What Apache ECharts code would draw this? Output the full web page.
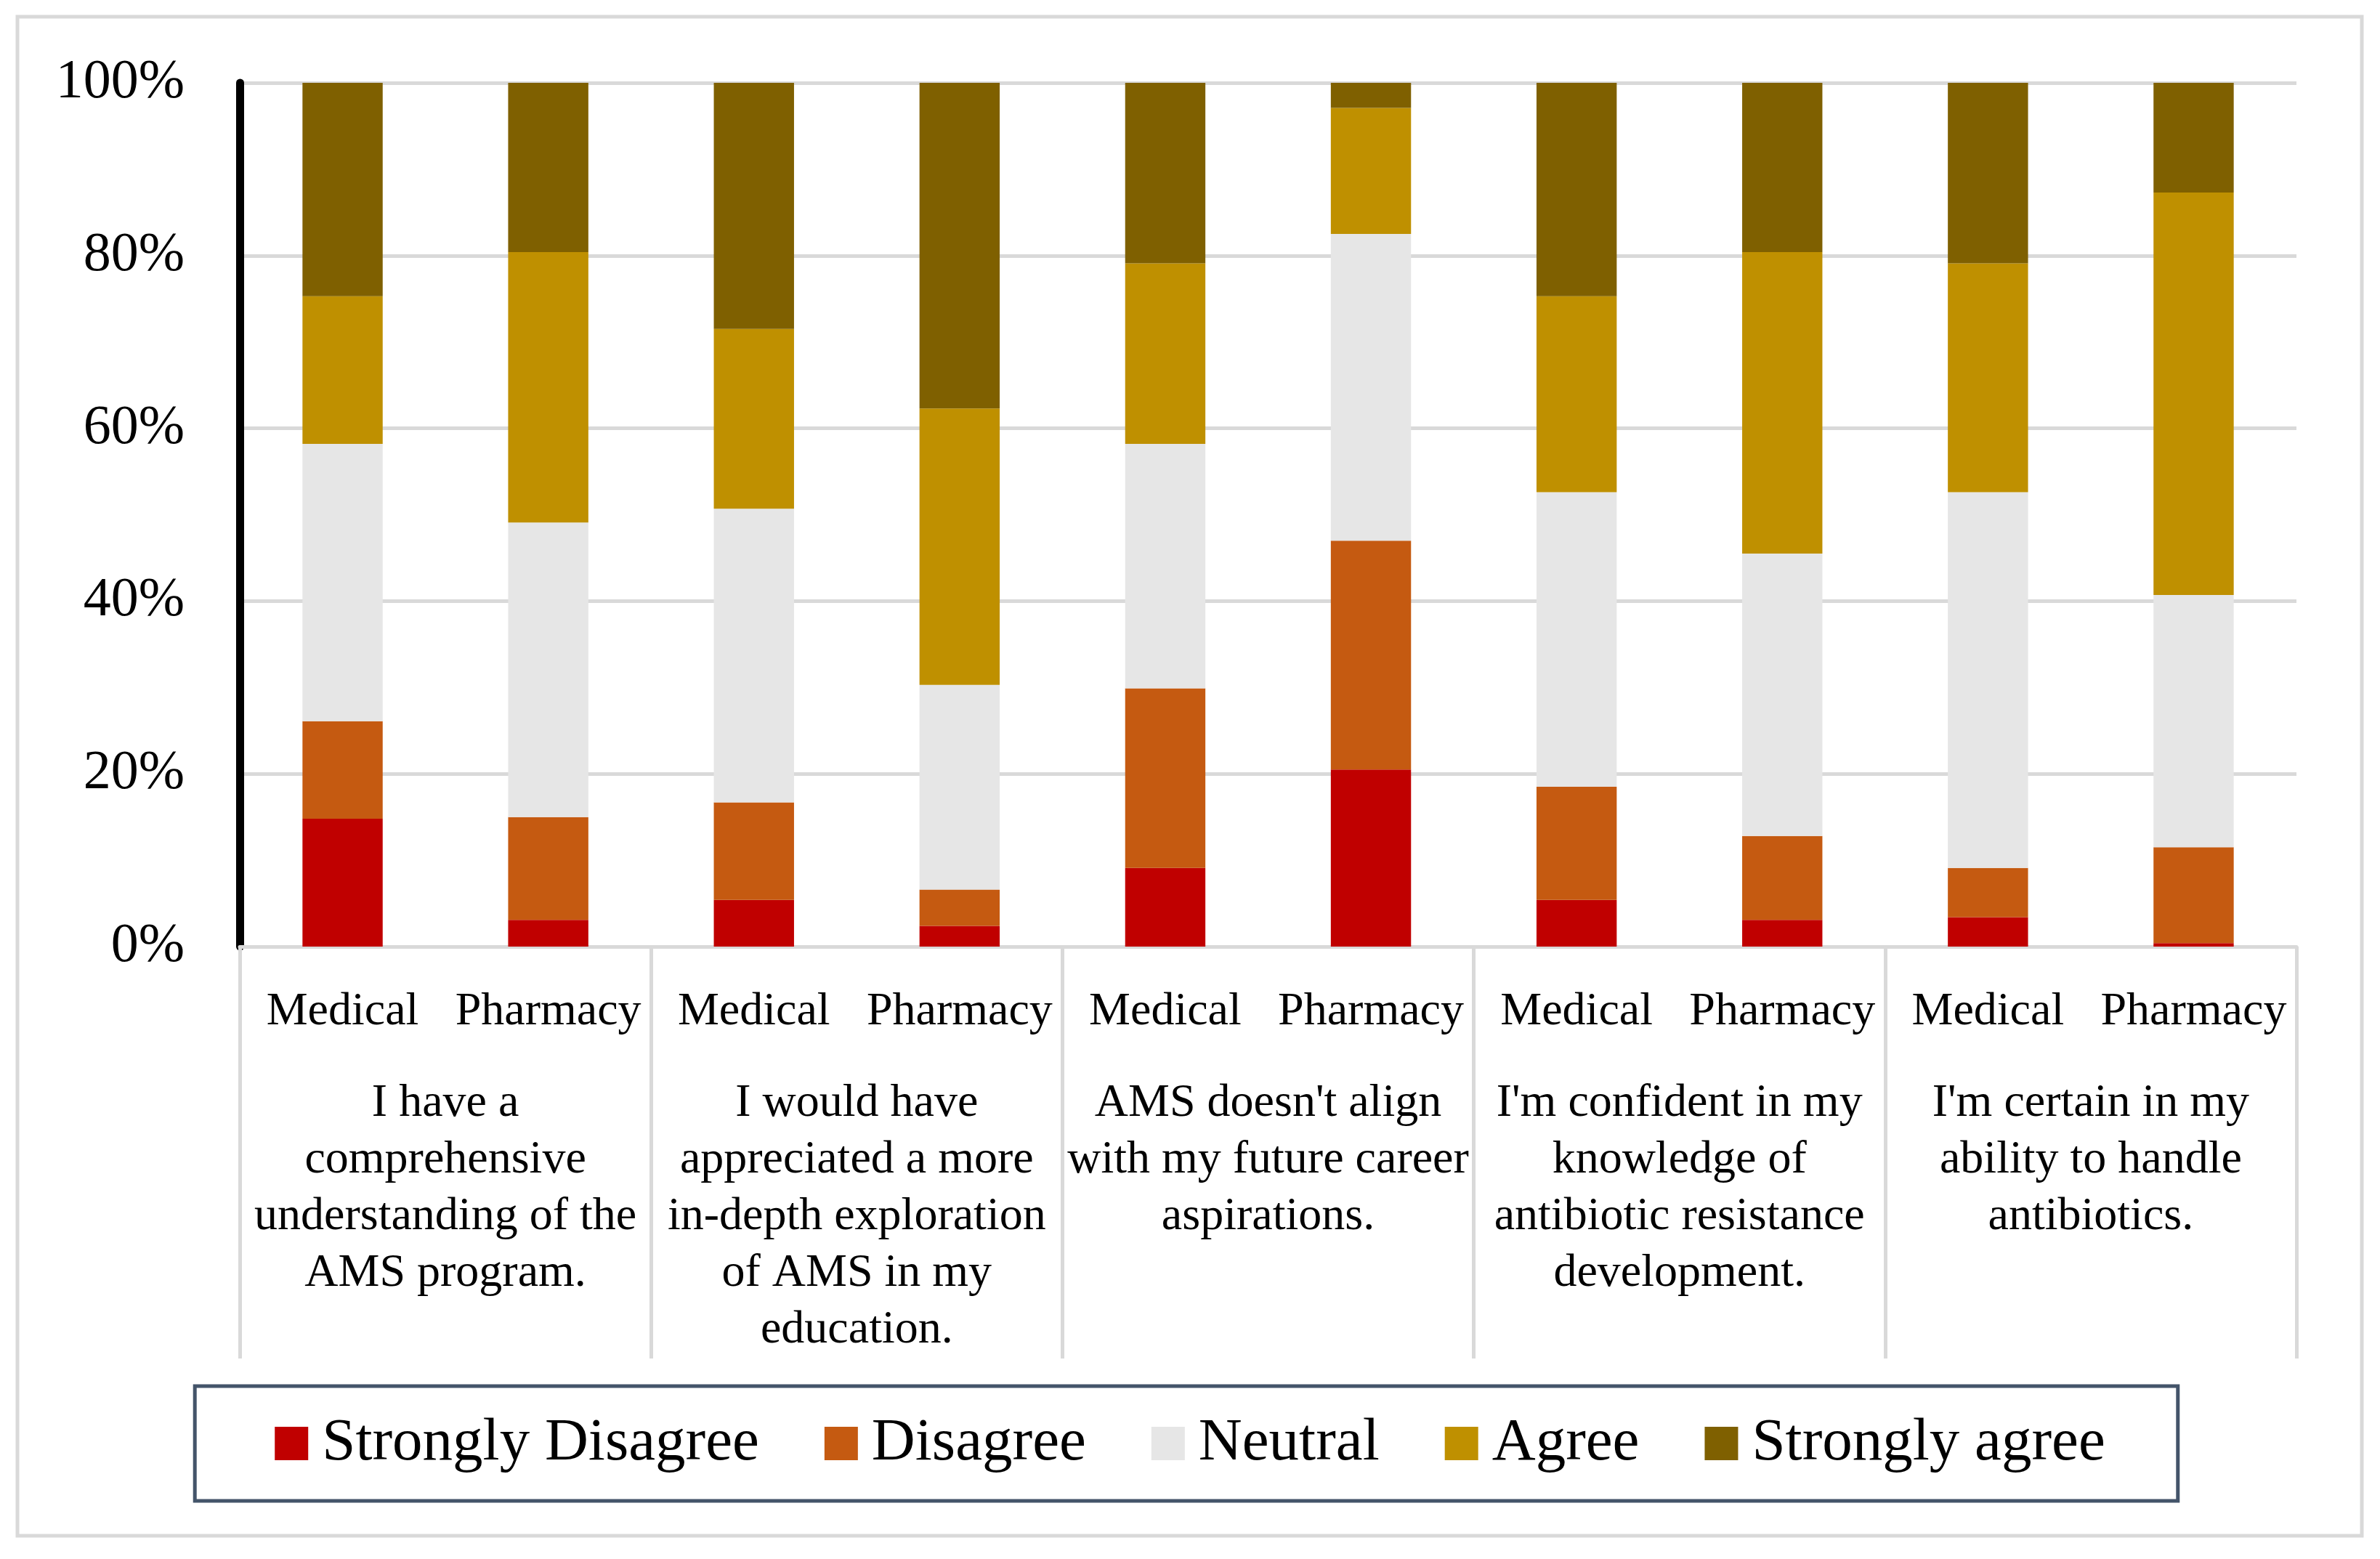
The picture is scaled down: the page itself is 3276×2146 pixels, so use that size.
<!DOCTYPE html>
<html>
<head>
<meta charset="utf-8">
<script src="https://cdn.jsdelivr.net/npm/echarts@6/dist/echarts.min.js"></script>
<style>
html,body{margin:0;padding:0;background:#fff;}
#chart{width:3276px;height:2146px;}
</style>
</head>
<body>
<div id="chart"></div>
<script>
// Sub-categories (one bar each)
const groups = ['Medical','Pharmacy','Medical','Pharmacy','Medical','Pharmacy','Medical','Pharmacy','Medical','Pharmacy'];
// Statements (one per pair of bars)
const statements = [
  'I have a\ncomprehensive\nunderstanding of the\nAMS program.',
  'I would have\nappreciated a more\nin-depth exploration\nof AMS in my\neducation.',
  "AMS doesn't align\nwith my future career\naspirations.",
  "I'm confident in my\nknowledge of\nantibiotic resistance\ndevelopment.",
  "I'm certain in my\nability to handle\nantibiotics."
];
const seriesNames = ['Strongly Disagree','Disagree','Neutral','Agree','Strongly agree'];
// Percent values per bar (Med Q1, Pha Q1, Med Q2, ...)
const stronglyDisagree = [14.8, 3.1, 5.4, 2.4, 9.1, 20.5, 5.4, 3.1, 3.4, 0.4];
const disagree         = [11.3, 11.9, 11.3, 4.2, 20.8, 26.5, 13.1, 9.7, 5.7, 11.1];
const neutral          = [32.1, 34.1, 34.0, 23.7, 28.3, 35.5, 34.1, 32.7, 43.5, 29.2];
const agree            = [17.1, 31.3, 20.8, 32.0, 20.9, 14.6, 22.7, 34.9, 26.5, 46.6];
const stronglyAgree    = [24.7, 19.6, 28.5, 37.7, 20.9, 2.9, 24.7, 19.6, 20.9, 12.7];
const yTicks = [0, 20, 40, 60, 80, 100];

const colors = ['#c00000','#c55a11','#e6e6e6','#bf9000','#7f6000'];
const allData = [stronglyDisagree, disagree, neutral, agree, stronglyAgree];
const FONT = '"Liberation Serif", "Times New Roman", serif';

const chart = echarts.init(document.getElementById('chart'), null, {renderer:'canvas'});
chart.setOption({
  animation:false,
  backgroundColor:'#fff',
  color: colors,
  textStyle:{fontFamily:FONT},
  graphic:[{
    type:'rect', silent:true, z:-10,
    shape:{x:24, y:23, width:3227, height:2091},
    style:{fill:'none', stroke:'#d9d9d9', lineWidth:5}
  }],
  grid:{left:330, right:115, top:114, bottom:843, containLabel:false},
  legend:{
    data: seriesNames,
    left:'center', top:1908,
    orient:'horizontal',
    itemWidth:46, itemHeight:46, itemGap:90,
    icon:'rect',
    padding:[34, 100, 34, 110],
    borderColor:'#44546a', borderWidth:5, borderRadius:0,
    textStyle:{fontFamily:FONT, fontSize:83, color:'#000', lineHeight:90, padding:[0,0,0,14]}
  },
  xAxis:[{
    type:'category',
    data: groups,
    position:'bottom',
    axisLine:{show:true, lineStyle:{color:'#d9d9d9', width:5}},
    axisTick:{show:false},
    axisLabel:{interval:0, fontFamily:FONT, fontSize:64, color:'#000', margin:90, verticalAlign:'middle'}
  },{
    type:'category',
    data: statements,
    position:'bottom',
    offset:0,
    axisLine:{show:false},
    axisTick:{show:true, interval:0, length:567, alignWithLabel:false, lineStyle:{color:'#d9d9d9', width:5}},
    axisLabel:{interval:0, fontFamily:FONT, fontSize:64, lineHeight:78, color:'#000', margin:177, verticalAlign:'top', align:'center'}
  }],
  yAxis:{
    type:'value', min:0, max:100, interval:20,
    axisLine:{show:true, lineStyle:{color:'#000', width:11}},
    axisTick:{show:false},
    splitLine:{show:true, lineStyle:{color:'#d9d9d9', width:5}},
    axisLabel:{formatter: v => yTicks.includes(v) ? v + '%' : '', fontFamily:FONT, fontSize:76, color:'#000', margin:76}
  },
  series: seriesNames.map((name, i) => ({
    name: name,
    type:'bar',
    stack:'total',
    xAxisIndex:0,
    barWidth:'39%',
    itemStyle:{color: colors[i]},
    data: allData[i]
  }))
});
</script>
</body>
</html>
